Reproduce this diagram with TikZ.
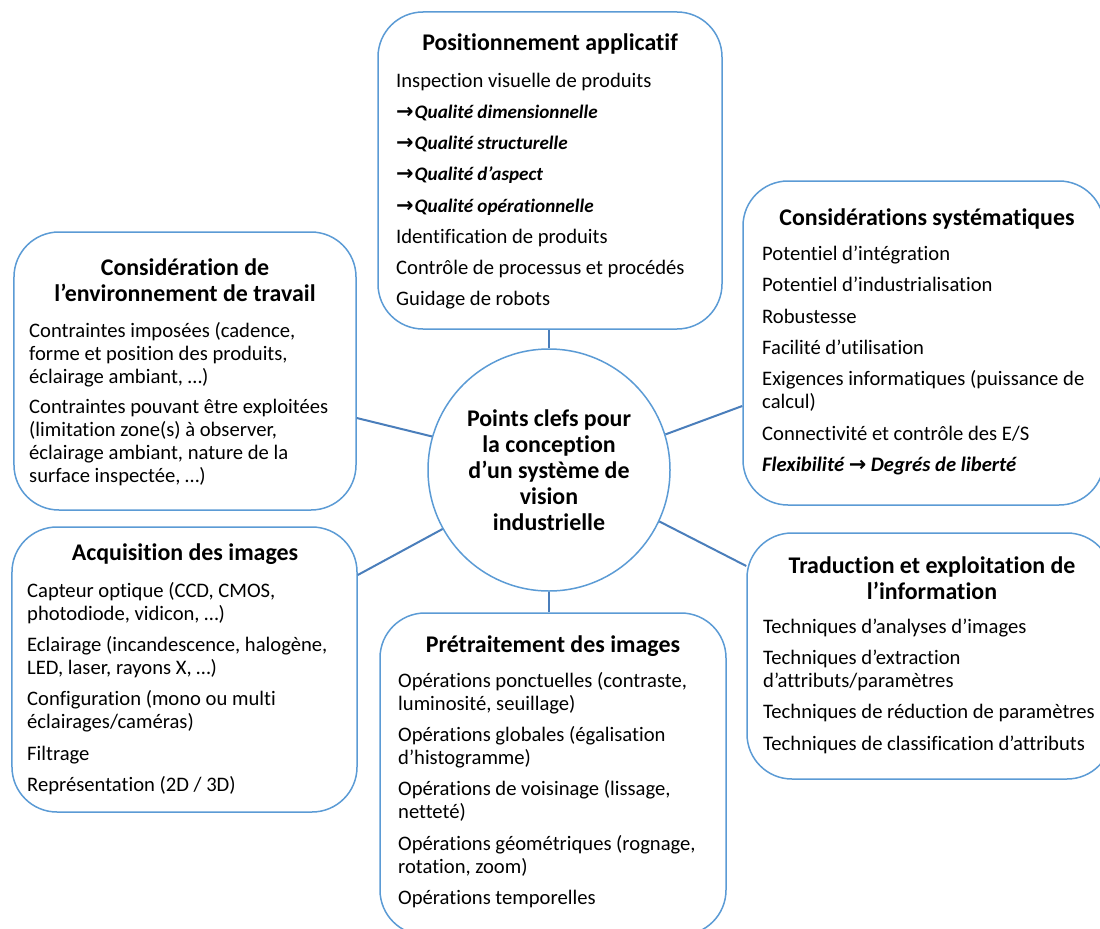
\documentclass[tikz,border=0pt]{standalone}
\usepackage{fontspec}
\setmainfont{Carlito}[Ligatures=NoCommon]
\newfontfamily\arrfont{DejaVu Sans}
\definecolor{bordercol}{HTML}{5B9BD5}
\definecolor{linecol}{HTML}{4A7EBB}
\newcommand\mybody{\fontsize{20.7}{23}\selectfont}
\newcommand\mytitle{\bfseries\fontsize{24}{26}\selectfont}
\newcommand\myqual{\bfseries\itshape\fontsize{19.2}{23}\selectfont}
\newcommand\myarr{{\arrfont\bfseries\fontsize{21}{23}\selectfont →}}
\newcommand\fb{\rule{0pt}{16bp}}
\newcommand\ft{\rule{0pt}{20bp}}
\tikzset{
  box/.style={draw=bordercol, line width=1.5bp, rounded corners=45bp, fill=white, inner sep=0pt, rectangle},
  hub/.style={draw=bordercol, line width=1.5bp, circle, fill=white, inner sep=0pt, minimum size=242bp, font=\mytitle, align=center},
  conn/.style={draw=linecol, line width=2bp},
  title/.style={font=\mytitle, align=center, anchor=north, inner sep=0pt},
  body/.style={font=\mybody, align=left, anchor=north west, inner sep=0pt},
}
\begin{document}
\begin{tikzpicture}[x=1bp,y=-1bp]
\useasboundingbox (0,0) rectangle (1100,929);
\clip (0,0) rectangle (1100,929);
\fill[white] (0,0) rectangle (1100,929);

% boxes
\node[box, minimum width=344bp, minimum height=317bp] (top) at (550,170.5) {};
\node[box, minimum width=342bp, minimum height=278bp] (ltop) at (185,371) {};
\node[box, minimum width=345bp, minimum height=285bp] (lbot) at (184.5,669.5) {};
\node[box, minimum width=346bp, minimum height=322bp] (bot) at (553,774) {};
\node[box, minimum width=361bp, minimum height=324bp] (rtop) at (923.5,343) {};
\node[box, minimum width=365bp, minimum height=246bp] (rbot) at (929.5,656) {};

% hub
\node[hub] (c) at (549,470) {Points clefs pour\\la conception\\d’un système de\\vision\\industrielle};

% connectors
\draw[conn] (c.north) -- (c.north |- top.south);
\draw[conn] (c.south) -- (c.south |- bot.north);
\draw[conn] (c.164.6) -- (ltop.east |- 0,418);
\draw[conn] (c.209.5) -- (lbot.east |- 0,575);
\draw[conn] (c.17.7) -- (rtop.west |- 0,406);
\draw[conn] (c.335.5) -- (rbot.west |- 0,566);

% top box
\node[title] (toptitle) at (550,30) {\ft Positionnement applicatif};
\node[body] (topbody) at (396,71) {\fb Inspection visuelle de produits\\[8.3bp]
{\myqual\myarr\kern1bp Qualité dimensionnelle}\\[8.3bp]
{\myqual\myarr\kern1bp Qualité structurelle}\\[8.3bp]
{\myqual\myarr\kern1bp Qualité d’aspect}\\[8.3bp]
{\myqual\myarr\kern1bp Qualité opérationnelle}\\[8.3bp]
Identification de produits\\[8.3bp]
Contrôle de processus et procédés\\[8.3bp]
Guidage de robots};

% right top box
\node[title] (rtoptitle) at (927,205) {\ft Considérations systématiques};
\node[body] (rtopbody) at (762,244) {\fb Potentiel d’intégration\\[8.5bp]
Potentiel d’industrialisation\\[8.5bp]
Robustesse\\[8.5bp]
Facilité d’utilisation\\[8.5bp]
Exigences informatiques (puissance de\\
calcul)\\[8.5bp]
Connectivité et contrôle des E/S\\[8.5bp]
{\bfseries\itshape Flexibilité \myarr{} Degrés de liberté}};

% left top box
\node[title] (ltoptitle) at (185,255) {\ft Considération de\\l’environnement de travail};
\node[body] (ltopbody) at (29,321) {\fb Contraintes imposées (cadence,\\
forme et position des produits,\\
éclairage ambiant, …)\\[8bp]
Contraintes pouvant être exploitées\\
(limitation zone(s) à observer,\\
éclairage ambiant, nature de la\\
surface inspectée, …)};

% left bottom box
\node[title] (lbottitle) at (185,540) {\ft Acquisition des images};
\node[body] (lbotbody) at (27,581) {\fb Capteur optique (CCD, CMOS,\\
photodiode, vidicon, …)\\[8.5bp]
Eclairage (incandescence, halogène,\\
LED, laser, rayons X, …)\\[8.5bp]
Configuration (mono ou multi\\
éclairages/caméras)\\[8.5bp]
Filtrage\\[8.5bp]
Représentation (2D / 3D)};

% bottom box
\node[title] (bottitle) at (553,632) {\ft Prétraitement des images};
\node[body] (botbody) at (398,671) {\fb Opérations ponctuelles (contraste,\\
luminosité, seuillage)\\[8.5bp]
Opérations globales (égalisation\\
d’histogramme)\\[8.5bp]
Opérations de voisinage (lissage,\\
netteté)\\[8.5bp]
Opérations géométriques (rognage,\\
rotation, zoom)\\[8.5bp]
Opérations temporelles};

% right bottom box
\node[title] (rbottitle) at (932,553) {\ft Traduction et exploitation de\\l’information};
\node[body] (rbotbody) at (763,617) {\fb Techniques d’analyses d’images\\[8.5bp]
Techniques d’extraction\\
d’attributs/paramètres\\[8.5bp]
Techniques de réduction de paramètres\\[8.5bp]
Techniques de classification d’attributs};
\end{tikzpicture}
\end{document}
